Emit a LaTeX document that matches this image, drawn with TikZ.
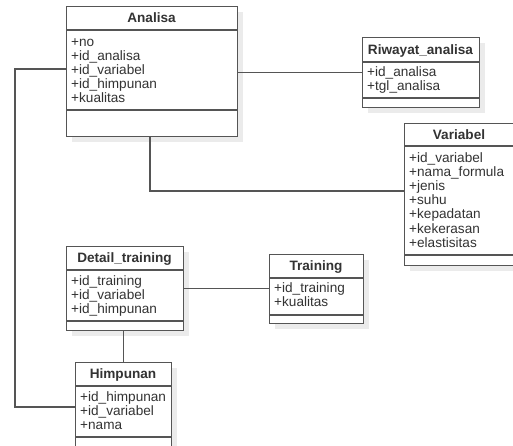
\documentclass[tikz,border=0pt]{standalone}
\usepackage{fontspec}
\setmainfont{Liberation Sans}
\definecolor{linec}{HTML}{555555}
\definecolor{textc}{HTML}{333333}
\definecolor{shadowc}{HTML}{EBEBEB}
\tikzset{
  x=1pt, y=-1pt,
  classbox/.style={draw=linec, line width=1.2pt, fill=white, rectangle, inner sep=0pt, anchor=north west},
  shadowbox/.style={fill=shadowc, draw=none},
  divider/.style={draw=linec, line width=1.2pt},
  title/.style={font=\fontsize{13.6}{15}\selectfont\bfseries, text=textc, anchor=base, inner sep=0pt},
  attr/.style={font=\fontsize{13.6}{15}\selectfont, text=textc, anchor=base west, inner sep=0pt},
  conn/.style={draw=linec, line width=1.2pt}
}
% #1 name, #2 x1, #3 y1, #4 x2, #5 y2, #6 div1, #7 div2, #8 title
\newcommand{\umlclass}[8]{%
  \fill[shadowbox] (#2+6,#3+6) rectangle (#4+6,#5+6);
  \node[classbox, minimum width={(#4-#2)*1pt}, minimum height={(#5-#3)*1pt}] (#1) at (#2,#3) {};
  \draw[divider] (#2,#6) -- (#4,#6);
  \draw[divider] (#2,#7) -- (#4,#7);
  \node[title] (#1-title) at ({(#2+#4)/2}, {(#3+#6)/2+4.6}) {#8};
}
% #1 name, #2 x, #3 first baseline, #4 list
\newcommand{\attrlist}[4]{%
  \foreach \t [count=\i] in {#4}
    \node[attr] (#1-a\i) at (#2, {#3+(\i-1)*14.2}) {\t};
}
\begin{document}
\begin{tikzpicture}
\useasboundingbox[fill=white] (0,0) rectangle (513,445);
\begin{scope}
\clip (0,0) rectangle (513,445);
\umlclass{analisa}{66}{6}{237}{136}{30}{110}{Analisa}
\attrlist{analisa}{71}{46}{+no,+id\_analisa,+id\_variabel,+id\_himpunan,+kualitas}
\umlclass{riwayat}{362}{37}{479}{107}{62}{98}{Riwayat\_analisa}
\attrlist{riwayat}{367}{76.5}{+id\_analisa,+tgl\_analisa}
\umlclass{variabel}{404}{123}{518}{265}{146}{255}{\hspace*{-4pt}Variabel}
\attrlist{variabel}{409}{162}{+id\_variabel,+nama\_formula,+jenis,+suhu,+kepadatan,+kekerasan,+elastisitas}
\umlclass{detail}{66}{246}{183}{330}{270}{321}{Detail\_training}
\attrlist{detail}{71}{285}{+id\_training,+id\_variabel,+id\_himpunan}
\umlclass{training}{269}{254}{363}{323}{278}{315}{Training}
\attrlist{training}{274}{292.5}{+id\_training,+kualitas}
\umlclass{himpunan}{75}{362}{171}{452}{386}{437}{Himpunan}
\attrlist{himpunan}{80}{401}{+id\_himpunan,+id\_variabel,+nama}
\end{scope}
\coordinate (b1) at (15,69);
\coordinate (b2) at (15,407);
\coordinate (b3) at (150,191);
\draw[conn] (analisa.west |- b1) -- (b1) -- (b2) -- (himpunan.west |- b2);
\draw[conn] (analisa.east |- riwayat.west) -- (riwayat.west);
\draw[conn] (analisa.south -| b3) -- (b3) -- (variabel.west |- b3);
\draw[conn] (detail.east) -- (training.west |- detail.east);
\draw[conn] (detail.south -| himpunan.north) -- (himpunan.north);
\end{tikzpicture}
\end{document}
